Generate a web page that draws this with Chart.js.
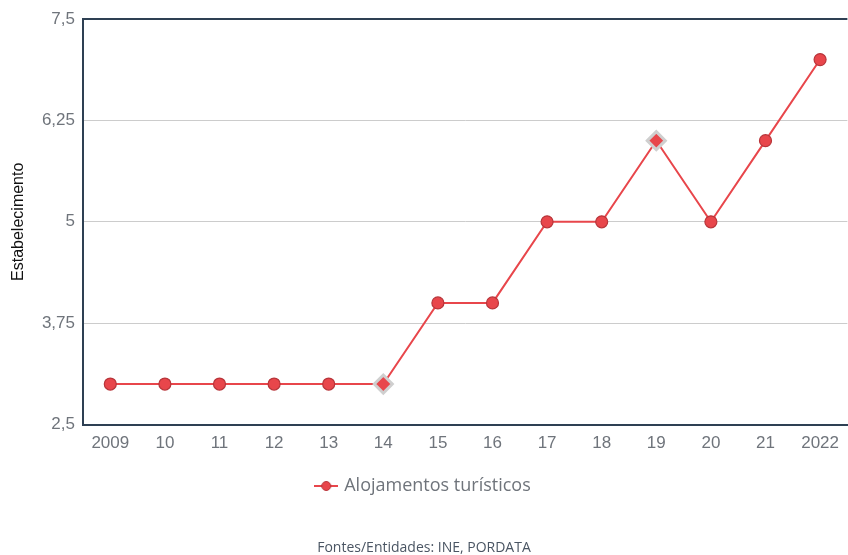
<!DOCTYPE html>
<html>
<head>
<meta charset="utf-8">
<script src="https://cdn.jsdelivr.net/npm/chart.js@4"></script>
<style>
  html, body { margin: 0; padding: 0; background: #fff; }
  #wrap { position: relative; width: 848px; height: 555px; }
  #source {
    position: absolute; left: 0; width: 848px; top: 537px;
    text-align: center; font-family: 'Open Sans', sans-serif;
    font-size: 14px; color: #4a5563;
  }
</style>
</head>
<body>
<div id="wrap">
  <canvas id="chart" width="848" height="555"></canvas>
  <div id="source">Fontes/Entidades: INE, PORDATA</div>
</div>
<script>
// ── Data ──
const years = ['2009', '10', '11', '12', '13', '14', '15', '16', '17', '18', '19', '20', '21', '2022'];
const alojamentos = [3, 3, 3, 3, 3, 3, 4, 4, 5, 5, 6, 5, 6, 7];
const highlighted = [5, 10]; // points drawn as diamonds
const yTicks = [2.5, 3.75, 5, 6.25, 7.5];

const RED = '#e8464b';
const AXIS = '#2e4053';
const GRID = '#cccccc';
const TICK = '#6f747b';
const FONT = "'Open Sans', sans-serif";
const TICK_FONT = "'Liberation Sans', Arial, sans-serif";

// legend icon: line with a dot
function legendIcon() {
  const c = document.createElement('canvas');
  c.width = 24; c.height = 14;
  const g = c.getContext('2d');
  g.strokeStyle = RED; g.lineWidth = 2;
  g.beginPath(); g.moveTo(0, 7); g.lineTo(24, 7); g.stroke();
  g.fillStyle = RED; g.strokeStyle = '#b8353a'; g.lineWidth = 1;
  g.beginPath(); g.arc(12, 7, 4.5, 0, Math.PI * 2); g.fill(); g.stroke();
  return c;
}

const isHi = i => highlighted.includes(i);

new Chart(document.getElementById('chart'), {
  type: 'line',
  data: {
    labels: years,
    datasets: [{
      label: 'Alojamentos turísticos',
      data: alojamentos,
      borderColor: RED,
      borderWidth: 2,
      tension: 0,
      clip: false,
      pointStyle: ctx => isHi(ctx.dataIndex) ? 'rectRot' : 'circle',
      pointRadius: ctx => isHi(ctx.dataIndex) ? 9 : 6,
      pointBackgroundColor: RED,
      pointBorderColor: ctx => isHi(ctx.dataIndex) ? '#cfcfcf' : '#b8353a',
      pointBorderWidth: ctx => isHi(ctx.dataIndex) ? 3 : 1.2
    }]
  },
  options: {
    responsive: false,
    animation: false,
    layout: { autoPadding: false, padding: { top: 19, right: 0, left: 0, bottom: 50 } },
    plugins: {
      legend: {
        position: 'bottom',
        labels: {
          usePointStyle: true,
          pointStyle: legendIcon(),
          color: TICK,
          font: { family: FONT, size: 18 },
          padding: 14
        }
      },
      tooltip: { enabled: false }
    },
    scales: {
      x: {
        offset: true,
        grid: { display: false, drawTicks: false },
        border: { color: AXIS, width: 2 },
        ticks: { color: TICK, font: { family: TICK_FONT, size: 17 }, padding: 9, maxRotation: 0, autoSkip: false }
      },
      y: {
        min: 2.5,
        max: 7.5,
        afterBuildTicks: s => { s.ticks = yTicks.map(v => ({ value: v })); },
        afterFit: s => { s.width = 83; },
        border: { color: AXIS, width: 2 },
        grid: {
          drawTicks: false,
          color: ctx => ctx.tick && ctx.tick.value === 7.5 ? AXIS : GRID,
          lineWidth: ctx => ctx.tick && ctx.tick.value === 7.5 ? 2 : 1
        },
        title: {
          display: true,
          text: 'Estabelecimento',
          color: '#111',
          font: { family: TICK_FONT, size: 16 },
          padding: { top: 9, bottom: 0 }
        },
        ticks: {
          color: TICK,
          font: { family: TICK_FONT, size: 17 },
          padding: 8,
          callback: v => String(v).replace('.', ',')
        }
      }
    }
  }
});
</script>
</body>
</html>
